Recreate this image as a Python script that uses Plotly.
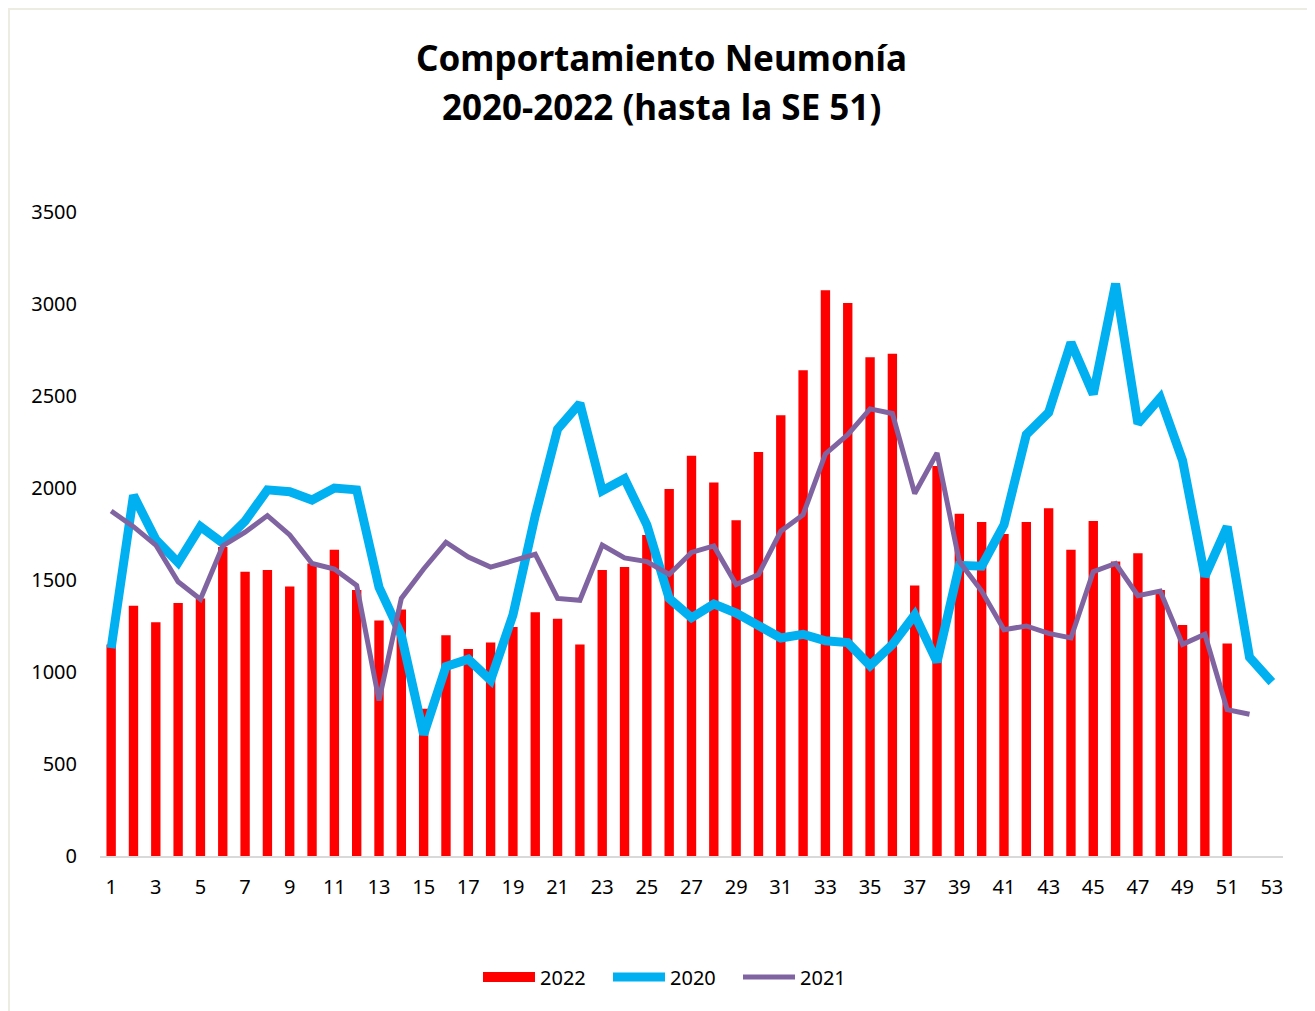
import plotly.graph_objects as go

weeks_2022 = list(range(1, 52))
weeks_2020 = list(range(1, 54))
weeks_2021 = list(range(1, 53))

cases_2022 = [1150, 1360, 1270, 1375, 1400, 1680, 1545, 1555, 1465, 1590,
              1665, 1445, 1280, 1340, 800, 1200, 1125, 1160, 1245, 1325,
              1290, 1150, 1555, 1570, 1745, 1995, 2175, 2030, 1825, 2195,
              2395, 2640, 3075, 3005, 2710, 2730, 1470, 2120, 1860, 1815,
              1750, 1815, 1890, 1665, 1820, 1600, 1645, 1445, 1255, 1530,
              1155]

cases_2020 = [1130, 1960, 1720, 1595, 1790, 1700, 1820, 1990, 1980, 1935,
              2000, 1990, 1460, 1200, 660, 1030, 1070, 955, 1310, 1850,
              2320, 2460, 1985, 2050, 1800, 1400, 1295, 1370, 1320, 1250,
              1185, 1205, 1170, 1160, 1035, 1150, 1310, 1055, 1580, 1575,
              1800, 2290, 2410, 2790, 2510, 3110, 2350, 2490, 2150, 1520,
              1790, 1080, 945]

cases_2021 = [1875, 1790, 1690, 1490, 1395, 1685, 1760, 1850, 1745, 1590,
              1560, 1470, 845, 1400, 1560, 1705, 1625, 1570, 1605, 1640,
              1400, 1390, 1690, 1620, 1600, 1530, 1650, 1685, 1475, 1530,
              1765, 1855, 2185, 2290, 2430, 2405, 1970, 2190, 1600, 1440,
              1230, 1250, 1210, 1185, 1545, 1590, 1415, 1440, 1150, 1205,
              795, 770]

x_ticks = list(range(1, 54, 2))
y_ticks = [0, 500, 1000, 1500, 2000, 2500, 3000, 3500]

FONT = "Noto Sans"
RED, CYAN, PURPLE = "#FF0000", "#00B0F0", "#8064A2"

fig = go.Figure()
fig.add_trace(go.Bar(x=weeks_2022, y=cases_2022, name="2022",
                     marker=dict(color=RED, line=dict(width=0)),
                     width=0.42, showlegend=False, legendgroup="2022"))
# legend-only entry so the 2022 key is drawn as a wide red block
fig.add_trace(go.Scatter(x=[None], y=[None], name="2022", mode="lines",
                         line=dict(color=RED, width=13), legendgroup="2022"))
fig.add_trace(go.Scatter(x=weeks_2020, y=cases_2020, name="2020", mode="lines",
                         line=dict(color=CYAN, width=9)))
fig.add_trace(go.Scatter(x=weeks_2021, y=cases_2021, name="2021", mode="lines",
                         line=dict(color=PURPLE, width=5)))

# page has an 8px body margin; figure pixels = screen pixels - 8
OFF = 8
W, H = 1307, 1003
L, T = 100 - OFF, 212 - OFF
pw, ph = 1183, 644
R = W - L - pw
B = H - T - ph

def px_x(p):
    return (p - OFF - L) / pw

def px_y(p):
    return (T + ph - (p - OFF)) / ph

fig.update_layout(
    width=W, height=H,
    margin=dict(l=L, r=R, t=T, b=B),
    paper_bgcolor="white", plot_bgcolor="white",
    font=dict(family=FONT, size=20, color="#000000"),
    showlegend=True,
    legend=dict(orientation="h", x=px_x(673), xanchor="center",
                y=px_y(977), yanchor="middle",
                font=dict(family=FONT, size=20, color="#000000"),
                itemwidth=52, entrywidth=63, entrywidthmode="pixels",
                tracegroupgap=0),
    xaxis=dict(range=[0.5, 53.5], tickmode="array", tickvals=x_ticks,
               ticktext=[str(v) for v in x_ticks],
               showgrid=False, zeroline=False, showline=True,
               linecolor="#D9D9D9", linewidth=2, ticks="",
               ticklabelstandoff=12,
               tickfont=dict(family=FONT, size=20, color="#000000")),
    yaxis=dict(range=[0, 3500], tickmode="array", tickvals=y_ticks,
               ticktext=[str(v) for v in y_ticks],
               showgrid=False, zeroline=False, showline=False, ticks="",
               ticklabelstandoff=22,
               tickfont=dict(family=FONT, size=20, color="#000000")),
    annotations=[
        dict(text="<b>Comportamiento Neumonía</b>", xref="paper", yref="paper",
             x=px_x(661), y=px_y(57), xanchor="center", yanchor="middle",
             showarrow=False, font=dict(family=FONT, size=35, color="#000000")),
        dict(text="<b>2020-2022 (hasta la SE 51)</b>", xref="paper", yref="paper",
             x=px_x(661), y=px_y(107), xanchor="center", yanchor="middle",
             showarrow=False, font=dict(family=FONT, size=35, color="#000000")),
    ],
    shapes=[
        dict(type="rect", xref="paper", yref="paper",
             x0=px_x(8.5), x1=px_x(1313.5), y0=px_y(1030), y1=px_y(8.5),
             line=dict(color="#ECECE2", width=3), fillcolor="rgba(0,0,0,0)",
             layer="below"),
    ],
)

fig.write_html("out.html")
